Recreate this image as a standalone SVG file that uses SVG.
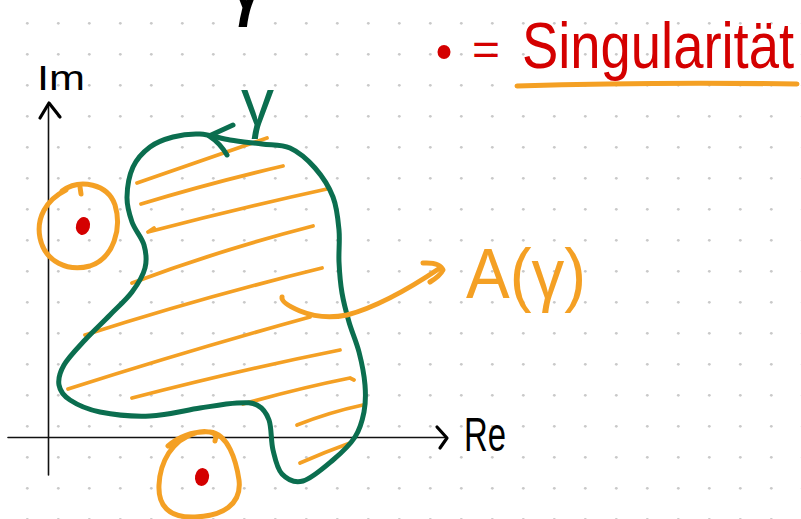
<svg xmlns="http://www.w3.org/2000/svg" width="801" height="519" viewBox="0 0 801 519">
<defs>
<pattern id="dots" x="0" y="0" width="31" height="31" patternUnits="userSpaceOnUse">
<circle cx="27.3" cy="23.3" r="1.4" fill="#c9c9c9"/>
</pattern>
<style>
.ax{fill:none;stroke:#111;stroke-width:1.6;stroke-linecap:round}
.axh{fill:none;stroke:#000;stroke-width:3.2;stroke-linecap:round;stroke-linejoin:round}
.grn{fill:none;stroke:#0b6e4f;stroke-width:5;stroke-linecap:round;stroke-linejoin:round}
.hat{fill:none;stroke:#f4a024;stroke-width:3.8;stroke-linecap:round;stroke-linejoin:round}
.org{fill:none;stroke:#f4a024;stroke-width:5;stroke-linecap:round;stroke-linejoin:round}
.sing{fill:#d40000}
.t{font-family:"Liberation Sans",Arial,sans-serif}
</style>
</defs>
<rect width="801" height="519" fill="#ffffff"/>
<rect width="801" height="519" fill="url(#dots)"/>

<g id="top-gamma">
<text class="t" x="224" y="8" font-size="90" fill="#000">γ</text>
</g>

<g id="axes">
<path class="ax" d="M48.5,104 L48.5,475"/>
<path class="ax" d="M8,437.5 L445,437.5"/>
<path class="axh" d="M40,118 L49,103 L60,117"/>
<path class="axh" d="M437,427 L447,438 L440,448"/>
<text class="t" x="37" y="90" font-size="35" fill="#000" textLength="48" lengthAdjust="spacingAndGlyphs">Im</text>
<text class="t" x="464" y="451" font-size="48" fill="#000" textLength="42" lengthAdjust="spacingAndGlyphs">Re</text>
</g>

<g id="region-hatching">
<path class="hat" d="M137,183 Q200,161 267,138"/>
<path class="hat" d="M141,204 Q210,183 283,166"/>
<path class="hat" d="M154,228 L148,232 Q240,208 327,189"/>
<path class="hat" d="M132,283 Q220,250 313,226"/>
<path class="hat" d="M85,335 Q200,298 322,268"/>
<path class="hat" d="M68,389 Q190,350 310,317"/>
<path class="hat" d="M132,398 Q240,370 340,350"/>
<path class="hat" d="M243,404 Q300,388 350,378 L354,380"/>
<path class="hat" d="M297,425 Q330,412 363,405"/>
<path class="hat" d="M300,463 Q325,452 350,443"/>
</g>

<g id="gamma-curve">
<path class="grn" d="M200,134 C209.5,134.5 219.7,138.3 230,140 S252,142.7 262,144 S281.2,144 290,148 S307.8,159.8 315,168 S329,186.7 333,197 S338,219.2 339,230 S338.5,251.5 339,262 S340.3,283 342,293 S346.2,312.2 349,322 S356.3,341.5 359,352 S364.2,375 365,385 S365.7,403.3 364,412 S360.2,429 355,437 S341.7,452.7 333,460 S311.5,478.7 303,481 S287,479.2 282,474 S275.2,459 273,450 S271.7,427.5 269,420 S262.3,407.8 257,405 S246.5,402.5 237,403 S214.5,405.8 200,408 S166.7,415.3 150,416 S113.3,414.7 100,412 S76.8,404.5 70,400 S60,390.8 59,385 S59.7,372.5 64,365 S77.3,348.3 85,340 S102.2,323 110,315 S126.2,299.8 132,292 S143,275.8 145,268 S146.2,252.7 144,245 S134.8,230 132,222 S126.8,206.2 127,197 S129.2,175.3 133,167 S143.3,152 150,147 S164.7,139.2 173,137 S190.5,133.5 200,134 Z"/>
<path class="grn" stroke-width="5.5" d="M233,125 L209,136 Q220,143 227,155"/>
<text class="t" x="241" y="125" font-size="66" fill="#0b6e4f">γ</text>
</g>

<g id="singularity-1">
<path class="org" d="M62,191 C80,178 108,184 115,205 C122,228 114,258 90,266 C68,272 45,262 40,238 C36,218 46,200 66,190"/>
<path class="org" stroke-width="3" d="M80,187 L81,194"/>
<ellipse class="sing" cx="83" cy="226" rx="7" ry="9" transform="rotate(15 83 226)"/>
</g>

<g id="singularity-2">
<path class="org" d="M168,446 C180,436 195,431 210,432 C228,434 236,460 239,480 C242,505 222,516 195,517 C168,518 158,505 159,485 C160,462 172,440 195,433 C205,430 214,432 216,436 L215,441"/>
<ellipse class="sing" cx="202" cy="477" rx="7" ry="9" transform="rotate(10 202 477)"/>
</g>

<g id="label-A">
<text class="t" x="466" y="298" font-size="70" fill="#f4a024" textLength="120" lengthAdjust="spacingAndGlyphs">A(γ)</text>
</g>

<g id="legend">
<ellipse class="sing" cx="444" cy="52" rx="6.5" ry="7"/>
<text class="t" x="472" y="65" font-size="44" fill="#d40000" textLength="28" lengthAdjust="spacingAndGlyphs">=</text>
<g transform="translate(522 68) scale(0.85 1)">
<text class="t" x="0" y="0" font-size="64" fill="#d40000">Singularität</text>
</g>
<path class="org" stroke-width="7" d="M517,86 Q650,82 797,84"/>
</g>

<g id="connectors">
<path class="org" d="M282,297 Q281,303 300,311 Q322,320 347,315 Q385,305 440,268"/>
<path class="org" d="M423,263 Q440,262 443,270 Q440,276 430,282"/>
</g>
</svg>
